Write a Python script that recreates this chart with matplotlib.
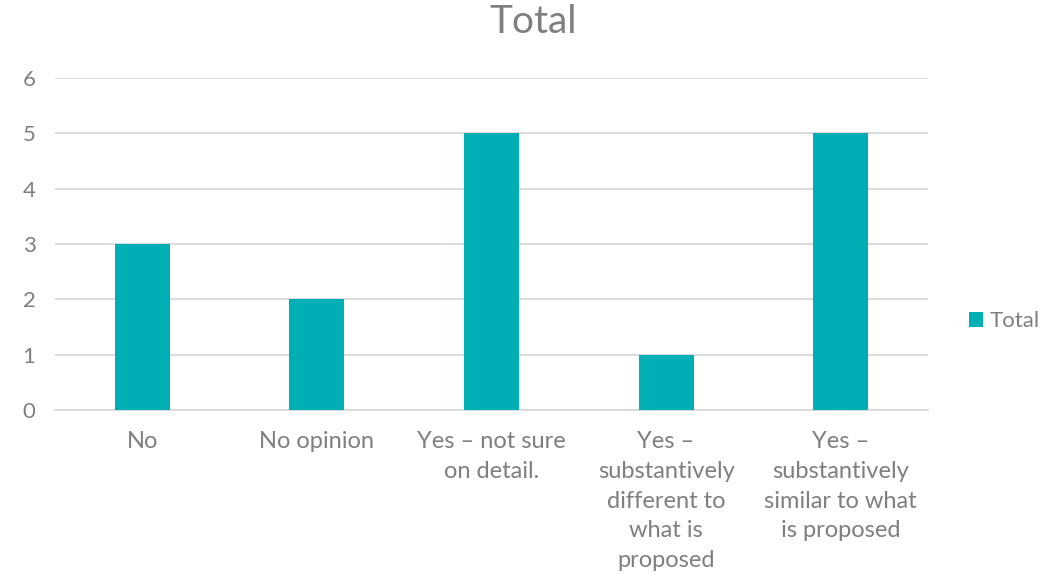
import matplotlib
matplotlib.use("Agg")
import matplotlib.pyplot as plt
from matplotlib.patches import Patch

categories = ["No", "No opinion", "Yes – not sure\non detail.",
              "Yes –\nsubstantively\ndifferent to\nwhat is\nproposed",
              "Yes –\nsubstantively\nsimilar to what\nis proposed"]
values = [3, 2, 5, 1, 5]
yticks = [0, 1, 2, 3, 4, 5, 6]

bar_color = "#00AEB5"
text_color = "#7F7F7F"
grid_color = "#D9D9D9"

plt.rcParams['font.family'] = ['Lato', 'DejaVu Sans']

fig = plt.figure(figsize=(10.40, 5.74), dpi=100)
ax = fig.add_axes([55/1040, 1-410/574, (928-55)/1040, (410-78)/574])

x = list(range(len(categories)))
ax.bar(x, values, width=0.315, color=bar_color, zorder=3)
ax.set_xlim(-0.5, len(categories)-0.5)
ax.set_ylim(0, 6)
ax.set_yticks(yticks)
ax.set_yticklabels([str(v) for v in yticks], fontsize=16, color=text_color)
ax.set_xticks(x)
ax.set_xticklabels(categories, fontsize=17, color=text_color, linespacing=1.52, va='top')
ax.tick_params(axis='both', length=0)
ax.tick_params(axis='y', pad=14)
ax.tick_params(axis='x', pad=15)
ax.grid(axis='y', color=grid_color, linewidth=1.3, zorder=0)
for s in ['top', 'right', 'left']:
    ax.spines[s].set_visible(False)
ax.spines['bottom'].set_color(grid_color)
ax.spines['bottom'].set_linewidth(1.3)

fig.text(533/1040, 1-22/574, "Total", fontsize=28, color=text_color, ha='center', va='center')

handle = Patch(facecolor=bar_color, edgecolor='none')
fig.legend([handle], ["Total"], loc='center left', bbox_to_anchor=(969/1040, 1-321/574),
           frameon=False, fontsize=16, labelcolor=text_color, handlelength=0.65,
           handleheight=0.65, handletextpad=0.3, borderaxespad=0, borderpad=0)

fig.savefig("out.png", dpi=100)
